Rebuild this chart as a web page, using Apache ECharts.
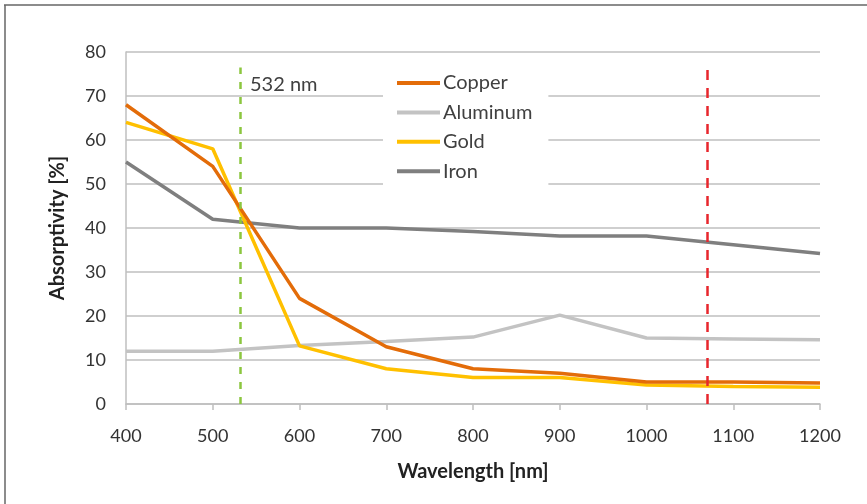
<!DOCTYPE html>
<html>
<head>
<meta charset="utf-8">
<script src="https://cdn.jsdelivr.net/npm/echarts@6/dist/echarts.min.js"></script>
<style>
html,body{margin:0;padding:0;background:#fff;}
#c{width:867px;height:504px;}
</style>
</head>
<body>
<div id="c"></div>
<script>
const wavelengths = [400, 500, 600, 700, 800, 900, 1000, 1100, 1200];
const copper   = [68, 54, 24, 13, 8, 7, 5, 5, 4.8];
const aluminum = [12, 12, 13.3, 14.2, 15.2, 20.2, 15, 14.8, 14.6];
const gold     = [64, 58, 13.2, 8, 6, 6, 4.3, 4, 3.8];
const iron     = [55, 42, 40, 40, 39.2, 38.2, 38.2, 36.2, 34.2];
const greenMarker = 532;
const redMarker = 1070;
const markerTop = 76.5;

const font = 'Lato, "Liberation Sans", sans-serif';
function pairs(vals){ return wavelengths.map((w,i)=>[w, vals[i]]); }

const chart = echarts.init(document.getElementById('c'), null, {renderer:'canvas'});
chart.setOption({
  animation:false,
  backgroundColor:'#fff',
  grid:{left:126, right:47, top:52, bottom:100},
  graphic:[
    {type:'line', shape:{x1:4, y1:5, x2:867, y2:5}, style:{stroke:'#666', lineWidth:1.5}},
    {type:'line', shape:{x1:5, y1:5, x2:5, y2:504}, style:{stroke:'#666', lineWidth:1.5}},
    {type:'text', left:250, top:75, z:10, style:{text:'532 nm', font:'20px '+font, fill:'#404040'}}
  ],
  legend:{
    left:383, top:65, orient:'vertical',
    backgroundColor:'#fff', padding:[8,16,8,14],
    icon:'rect', itemWidth:43, itemHeight:4, itemGap:9.4,
    textStyle:{fontFamily:font, fontSize:20, lineHeight:20, color:'#404040', padding:[0,0,0,-2]},
    data:['Copper','Aluminum','Gold','Iron']
  },
  xAxis:{
    type:'value', min:400, max:1200, interval:100,
    name:'Wavelength [nm]', nameLocation:'middle', nameGap:58,
    nameTextStyle:{fontFamily:font, fontSize:20, fontWeight:'bold', color:'#222'},
    axisLine:{lineStyle:{color:'#bfbfbf', width:1.5}},
    axisTick:{show:true, length:6, lineStyle:{color:'#bfbfbf', width:1.5}},
    axisLabel:{fontFamily:font, fontSize:18, color:'#333', margin:23, formatter:v=>String(v)},
    splitLine:{show:false}
  },
  yAxis:{
    type:'value', min:0, max:80, interval:10,
    name:'Absorptivity [%]', nameLocation:'middle', nameGap:58,
    nameTextStyle:{fontFamily:font, fontSize:20, fontWeight:'bold', color:'#222'},
    axisLine:{show:true, lineStyle:{color:'#bfbfbf', width:1.5}},
    axisTick:{show:false},
    axisLabel:{fontFamily:font, fontSize:18, color:'#333', margin:20},
    splitLine:{lineStyle:{color:'#bfbfbf', width:1.5}}
  },
  series:[
    {name:'Aluminum', type:'line', symbol:'none', data:pairs(aluminum), z:2,
     lineStyle:{color:'#c3c3c3', width:3.5}, itemStyle:{color:'#c3c3c3'}},
    {name:'Iron', type:'line', symbol:'none', data:pairs(iron), z:2,
     lineStyle:{color:'#7f7f7f', width:3.5}, itemStyle:{color:'#7f7f7f'}},
    {name:'Gold', type:'line', symbol:'none', data:pairs(gold), z:3,
     lineStyle:{color:'#ffc000', width:3.5}, itemStyle:{color:'#ffc000'}},
    {name:'Copper', type:'line', symbol:'none', data:pairs(copper), z:4,
     lineStyle:{color:'#e36c09', width:3.5}, itemStyle:{color:'#e36c09'},
     markLine:{
       silent:true, symbol:['none','none'], label:{show:false},
       data:[
         [{coord:[greenMarker,0], lineStyle:{color:'#8cc63f', width:2.5, type:[7,8]}},{coord:[greenMarker,markerTop]}],
         [{coord:[redMarker,0], lineStyle:{color:'#e8262c', width:2.5, type:[10,8]}},{coord:[redMarker,markerTop]}]
       ]
     }}
  ]
});
</script>
</body>
</html>
